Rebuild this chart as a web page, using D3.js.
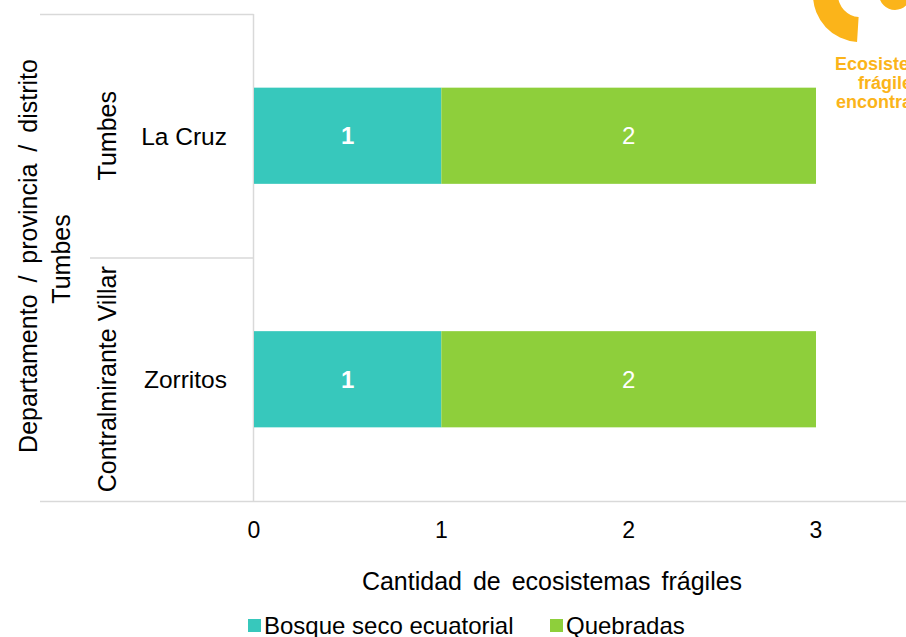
<!DOCTYPE html>
<html>
<head>
<meta charset="utf-8">
<script src="https://cdn.jsdelivr.net/npm/d3@7"></script>
<style>
  body { margin: 0; background: #fff; }
  svg { display: block; font-family: "Liberation Sans", Arial, sans-serif; }
</style>
</head>
<body>
<script>
(function() {

// data
var departamentos = ["Tumbes"],
    provincias    = ["Tumbes", "Contralmirante Villar"],
    distritos     = ["La Cruz", "Zorritos"],
    series        = ["Bosque seco ecuatorial", "Quebradas"],
    bosque        = [1, 1],
    quebradas     = [2, 2],
    ticks         = [0, 1, 2, 3],
    colors        = ["#37c8bc", "#8ecf3b"];

var width = 906, height = 637,
    grid = "#d9d9d9";

var svg = d3.select("body").append("svg")
  .attr("width", width)
  .attr("height", height);

var x = d3.scaleLinear().domain([0, 3]).range([254, 816]);
var y = d3.scaleBand().domain(distritos).range([14, 501]).padding(0);
var barH = y.bandwidth() * 0.395;

// stacked rows
var rows = distritos.map(function(d, i) {
  return { name: d, bosque: bosque[i], quebradas: quebradas[i] };
});
var stack = d3.stack().keys(["bosque", "quebradas"])(rows);

// frame / category lines
svg.append("line").attr("x1", 40).attr("x2", 253.5).attr("y1", 14.5).attr("y2", 14.5)
  .attr("stroke", grid).attr("stroke-width", 1.5);
svg.append("line").attr("x1", 40).attr("x2", width).attr("y1", 501.5).attr("y2", 501.5)
  .attr("stroke", grid).attr("stroke-width", 1.5);
svg.append("line").attr("x1", 90).attr("x2", 253.5)
  .attr("y1", y(distritos[1]) + 0.5).attr("y2", y(distritos[1]) + 0.5)
  .attr("stroke", grid).attr("stroke-width", 1.5);
svg.append("line").attr("x1", x(0) - 0.5).attr("x2", x(0) - 0.5).attr("y1", 14).attr("y2", 502)
  .attr("stroke", grid).attr("stroke-width", 1.5);

// bars
var layer = svg.selectAll("g.layer").data(stack).enter()
  .append("g").attr("class", "layer")
  .attr("fill", function(d, i) { return colors[i]; });

layer.selectAll("rect").data(function(d) { return d; }).enter()
  .append("rect")
    .attr("x", function(d) { return x(d[0]); })
    .attr("width", function(d) { return x(d[1]) - x(d[0]); })
    .attr("y", function(d) { return y(d.data.name) + (y.bandwidth() - barH) / 2; })
    .attr("height", barH);

layer.selectAll("text").data(function(d) { return d; }).enter()
  .append("text")
    .attr("x", function(d) { return (x(d[0]) + x(d[1])) / 2; })
    .attr("y", function(d) { return y(d.data.name) + y.bandwidth() / 2; })
    .attr("dy", "0.36em")
    .attr("text-anchor", "middle")
    .attr("fill", "#fff")
    .attr("font-size", 24)
    .attr("font-weight", function() { return this.parentNode.__data__.key === "bosque" ? "bold" : "normal"; })
    .text(function(d) { return d[1] - d[0]; });

// x tick labels
svg.selectAll("text.tick").data(ticks).enter()
  .append("text").attr("class", "tick")
    .attr("x", function(d) { return x(d); })
    .attr("y", 538)
    .attr("text-anchor", "middle")
    .attr("font-size", 23)
    .attr("fill", "#000")
    .text(function(d) { return d; });

svg.append("text")
  .attr("x", 552).attr("y", 590)
  .attr("text-anchor", "middle")
  .attr("font-size", 25)
  .attr("word-spacing", 4)
  .text("Cantidad de ecosistemas frágiles");

// district labels
svg.selectAll("text.dist").data(distritos).enter()
  .append("text").attr("class", "dist")
    .attr("x", 227)
    .attr("y", function(d) { return y(d) + y.bandwidth() / 2; })
    .attr("dy", "0.36em")
    .attr("text-anchor", "end")
    .attr("font-size", 24.5)
    .text(function(d) { return d; });

// province labels (rotated)
svg.selectAll("text.prov").data(provincias).enter()
  .append("text").attr("class", "prov")
    .attr("transform", function(d, i) {
      return "translate(116," + (y(distritos[i]) + y.bandwidth() / 2) + ") rotate(-90)";
    })
    .attr("text-anchor", "middle")
    .attr("font-size", 25)
    .text(function(d) { return d; });

// department label
svg.selectAll("text.dep").data(departamentos).enter()
  .append("text").attr("class", "dep")
    .attr("transform", "translate(70,259) rotate(-90)")
    .attr("text-anchor", "middle")
    .attr("font-size", 25)
    .text(function(d) { return d; });

svg.append("text")
  .attr("transform", "translate(37,256) rotate(-90)")
  .attr("text-anchor", "middle")
  .attr("font-size", 25)
  .attr("word-spacing", 5)
  .text("Departamento / provincia / distrito");

// legend
var lx = [248, 550];
var leg = svg.selectAll("g.leg").data(series).enter()
  .append("g").attr("class", "leg")
  .attr("transform", function(d, i) { return "translate(" + lx[i] + ",619)"; });
leg.append("rect").attr("width", 13).attr("height", 13)
  .attr("fill", function(d, i) { return colors[i]; });
leg.append("text").attr("x", 16).attr("y", 15)
  .attr("font-size", 24)
  .text(function(d) { return d; });

// logo fragment, top right
var orange = "#fbb41a";
svg.append("path")
  .attr("transform", "translate(860,-5)")
  .attr("d", d3.arc().innerRadius(22).outerRadius(47)
    .startAngle(Math.PI * 1.5).endAngle(Math.PI * 1.02)())
  .attr("fill", orange);
svg.append("path")
  .attr("transform", "translate(895,-6)")
  .attr("d", d3.arc().innerRadius(6).outerRadius(16)
    .startAngle(Math.PI * 0.5).endAngle(Math.PI * 1.5)())
  .attr("fill", orange);
var logo = ["Ecosistemas", "frágiles", "encontrados"];
svg.selectAll("text.logo").data(logo).enter()
  .append("text").attr("class", "logo")
    .attr("x", 890)
    .attr("y", function(d, i) { return 70 + i * 19; })
    .attr("text-anchor", "middle")
    .attr("font-size", 18)
    .attr("font-weight", "bold")
    .attr("fill", orange)
    .text(function(d) { return d; });

})();
</script>
</body>
</html>
